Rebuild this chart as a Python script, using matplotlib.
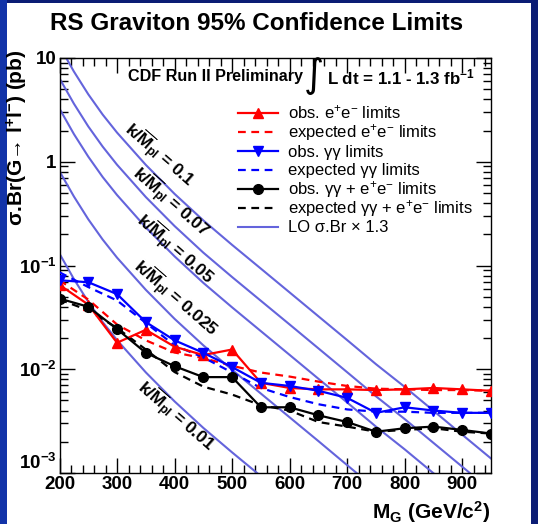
import matplotlib
matplotlib.use("Agg")
import matplotlib.pyplot as plt
from matplotlib.lines import Line2D
from matplotlib.patches import Rectangle
from matplotlib.ticker import FixedLocator, FixedFormatter, LogLocator, NullFormatter, MultipleLocator

plt.rcParams['font.family'] = ['Liberation Sans', 'DejaVu Sans']
plt.rcParams['mathtext.fontset'] = 'custom'
plt.rcParams['mathtext.rm'] = 'Liberation Sans'
plt.rcParams['mathtext.it'] = 'Liberation Sans:italic'
plt.rcParams['mathtext.bf'] = 'Liberation Sans:bold'
plt.rcParams['mathtext.default'] = 'regular'

# ---------------- data ----------------
masses = [200, 250, 300, 350, 400, 450, 500, 550, 600, 650, 700, 750, 800, 850, 900, 950]

obs_ee = [0.065, 0.042, 0.018, 0.024, 0.0165, 0.0137, 0.0155, 0.0074, 0.0066, 0.0064,
          0.0064, 0.0063, 0.0064, 0.0066, 0.0064, 0.0062]
exp_ee = [0.072, 0.047, 0.027, 0.019, 0.0145, 0.0128, 0.0108, 0.0093, 0.0085, 0.0076,
          0.0069, 0.0065, 0.0064, 0.0063, 0.0063, 0.0062]
obs_gg = [0.072, 0.069, 0.053, 0.0285, 0.019, 0.0144, 0.0105, 0.0074, 0.0069, 0.0062,
          0.0053, 0.0038, 0.0043, 0.0040, 0.0038, 0.0038]
exp_gg = [0.086, 0.062, 0.046, 0.028, 0.017, 0.013, 0.0093, 0.0066, 0.0054, 0.0046,
          0.0041, 0.0039, 0.0039, 0.0038, 0.0038, 0.0038]
obs_comb = [0.048, 0.040, 0.0244, 0.0144, 0.0107, 0.0084, 0.0084, 0.0043, 0.0043, 0.0036,
            0.0031, 0.0025, 0.0027, 0.0028, 0.0026, 0.0024]
exp_comb = [0.047, 0.037, 0.025, 0.0155, 0.0094, 0.0068, 0.0057, 0.0045, 0.0040, 0.0031,
            0.0028, 0.0025, 0.0026, 0.0027, 0.0025, 0.0024]

lo_mass = [200, 225, 250, 275, 300, 350, 400, 450, 500, 550, 600, 650, 700, 750, 800, 850, 900, 950]
lo_k001 = [0.130, 0.0741, 0.0447, 0.0285, 0.0191, 0.00933, 0.00490, 0.00272, 0.00158,
           0.000933, 0.000550, 0.000324, 0.000191, 0.000112, 6.76e-5, 3.98e-5, 2.34e-5, 1.38e-5]
lo_k0025 = [0.81, 0.463, 0.279, 0.178, 0.119, 0.0583, 0.0306, 0.0170, 0.00988,
            0.00583, 0.00344, 0.00203, 0.00119, 0.00070, 0.000423, 0.000249, 0.000146, 8.6e-5]
lo_k005 = [3.25, 1.85, 1.12, 0.713, 0.478, 0.233, 0.1225, 0.068, 0.0395,
           0.0233, 0.01375, 0.0081, 0.00478, 0.0028, 0.00169, 0.000995, 0.000585, 0.000345]
lo_k007 = [6.37, 3.63, 2.19, 1.40, 0.936, 0.457, 0.240, 0.133, 0.0774,
           0.0457, 0.0270, 0.0159, 0.00936, 0.00549, 0.00331, 0.00195, 0.00115, 0.000676]
lo_k01 = [13.0, 7.41, 4.47, 2.85, 1.91, 0.933, 0.490, 0.272, 0.158,
          0.0933, 0.0550, 0.0324, 0.0191, 0.0112, 0.00676, 0.00398, 0.00234, 0.00138]

lo_curves = [lo_k01, lo_k007, lo_k005, lo_k0025, lo_k001]
lo_labels = ['0.1', '0.07', '0.05', '0.025', '0.01']

legend_labels = [r'obs. e$^{+}$e$^{-}$ limits',
                 r'expected e$^{+}$e$^{-}$ limits',
                 'obs. γγ limits',
                 'expected γγ limits',
                 r'obs. γγ + e$^{+}$e$^{-}$ limits',
                 r'expected γγ + e$^{+}$e$^{-}$ limits',
                 'LO σ.Br × 1.3']

x_ticks = [200, 300, 400, 500, 600, 700, 800, 900]
y_ticks = [1e-3, 1e-2, 1e-1, 1, 10]
y_ticklabels = ['', r'10$^{-2}$', r'10$^{-1}$', '1', '10']
y_bottom_label = r'10$^{-3}$'

# ---------------- figure ----------------
W, H = 538, 524
fig = plt.figure(figsize=(W / 100, H / 100), dpi=100, facecolor='#0b1c74')
fig.patches.append(Rectangle((0, 0), 7 / W, 1, transform=fig.transFigure,
                             facecolor='#1233a8', edgecolor='none', zorder=-2))
fig.patches.append(Rectangle((7 / W, 0), (531 - 7) / W, (H - 3) / H, transform=fig.transFigure,
                             facecolor='white', edgecolor='none', zorder=-1))

ax = fig.add_axes([59.5 / W, (H - 473) / H, (491 - 59.5) / W, (473 - 58) / H])
ax.set_facecolor('white')
ax.set_yscale('log')
ax.set_xlim(200, 950)
ax.set_ylim(1e-3, 10)

LO_COLOR = '#6464dc'
DASH = (0, (3.5, 2.5))
styles = [
    dict(color='#ff0000', lw=1.6, marker='^', ms=7),
    dict(color='#ff0000', lw=1.6, ls=DASH),
    dict(color='#0000ff', lw=1.6, marker='v', ms=7.5),
    dict(color='#0000ff', lw=1.6, ls=DASH),
    dict(color='black', lw=1.6, marker='o', ms=7),
    dict(color='black', lw=1.6, ls=DASH),
    dict(color=LO_COLOR, lw=1.5),
]

for c in lo_curves:
    ax.plot(lo_mass, c, zorder=2, **styles[6])

ax.plot(masses, exp_ee, zorder=3, **styles[1])
ax.plot(masses, exp_gg, zorder=3, **styles[3])
ax.plot(masses, exp_comb, zorder=3, **styles[5])
ax.plot(masses, obs_ee, zorder=4, **styles[0])
ax.plot(masses, obs_gg, zorder=4, **styles[2])
ax.plot(masses, obs_comb, zorder=5, **styles[4])

# ticks
ax.xaxis.set_major_locator(FixedLocator(x_ticks))
ax.xaxis.set_minor_locator(MultipleLocator(20))
ax.set_xticklabels([str(v) for v in x_ticks])
ax.yaxis.set_major_locator(FixedLocator(y_ticks))
ax.yaxis.set_major_formatter(FixedFormatter(y_ticklabels))
ax.yaxis.set_minor_locator(LogLocator(base=10, subs=range(2, 10), numticks=20))
ax.yaxis.set_minor_formatter(NullFormatter())
ax.tick_params(which='both', direction='in', top=True, right=True, width=1)
ax.tick_params(which='major', length=11)
ax.tick_params(which='minor', length=5.5)
ax.tick_params(axis='x', which='major', labelsize=13.5, pad=2)
ax.tick_params(axis='y', which='major', labelsize=13.5, pad=2)
for lbl in ax.get_xticklabels() + ax.get_yticklabels():
    lbl.set_fontweight('bold')
for s in ax.spines.values():
    s.set_linewidth(1.0)
fig.text(57 / W, 1 - 473 / H, y_bottom_label, ha='right', va='bottom',
         fontsize=13.5, fontweight='bold')

# legend (manual, no frame)
leg_rows = [113, 132, 151, 170, 189, 208, 227]
for yy, st, lab in zip(leg_rows, styles, legend_labels):
    st_line = {k: v for k, v in st.items() if k not in ('marker', 'ms')}
    fig.add_artist(Line2D([238 / W, 278 / W], [1 - yy / H, 1 - yy / H],
                          transform=fig.transFigure, **st_line))
    if 'marker' in st:
        fig.add_artist(Line2D([258 / W], [1 - yy / H], transform=fig.transFigure,
                              color=st['color'], marker=st['marker'], ms=st['ms'], ls='none'))
    fig.text(288 / W, 1 - (yy + 5.5) / H, lab, ha='left', va='baseline', fontsize=12)

# texts
fig.text(257 / W, 1 - 24 / H, 'RS Graviton 95% Confidence Limits', ha='center', va='center',
         fontsize=17.5, fontweight='bold')
fig.text(128 / W, 1 - 77 / H, 'CDF Run II Preliminary', ha='left', va='center',
         fontsize=11.6, fontweight='bold')
fig.text(314 / W, 1 - 76 / H, '∫', ha='center', va='center', fontsize=28,
         family=['DejaVu Sans'])
fig.text(327 / W, 1 - 77 / H, r'L dt = 1.1 - 1.3 fb$^{-1}$', ha='left', va='center',
         fontsize=12.2, fontweight='bold')

fig.text(17 / W, 1 - 50 / H, r'σ.Br(G→ l$^{+}$l$^{-}$) (pb)', ha='center', va='top',
         rotation=90, fontsize=15, fontweight='bold')
fig.text(490 / W, 1 - 512 / H, r'M$_{G}$ (GeV/c$^{2}$)', ha='right', va='center',
         fontsize=15, fontweight='bold')

label_centers = [(159, 155), (171, 202), (175, 249), (176, 298), (176, 416)]
for (cx, cy), k in zip(label_centers, lo_labels):
    fig.text(cx / W, 1 - cy / H, r'k/$\overline{\mathbf{M}}_{\mathbf{pl}}$ = ' + k,
             ha='center', va='center', rotation=-41, rotation_mode='anchor',
             fontsize=12.5, fontweight='bold')

fig.savefig('out.png', dpi=100, facecolor=fig.get_facecolor())
